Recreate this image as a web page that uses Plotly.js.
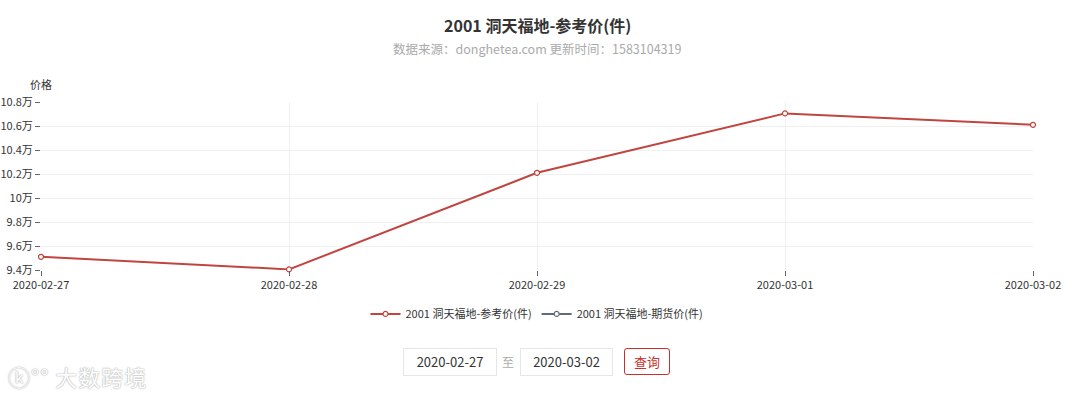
<!DOCTYPE html>
<html>
<head>
<meta charset="utf-8">
<script src="https://cdn.plot.ly/plotly-3.0.1.min.js"></script>
<style>
  html,body{margin:0;padding:0;background:#fff;}
  #wrap{position:relative;width:1080px;height:397px;overflow:hidden;font-family:"Noto Sans CJK SC","Noto Sans",sans-serif;}
  #chart{position:absolute;left:0;top:0;width:1080px;height:397px;}
  .box{position:absolute;top:348px;height:28px;border:1px solid #e6e6e6;box-sizing:border-box;font-size:13px;color:#333;text-align:center;line-height:26px;background:#fff;}
  .to{position:absolute;top:348px;height:28px;line-height:28px;font-size:12px;color:#aaa;}
  .btn{position:absolute;top:348px;height:27px;border:1px solid #c9302c;border-radius:3px;box-sizing:border-box;font-size:13px;color:#c9302c;text-align:center;line-height:25px;background:#fff;}
  .wm{position:absolute;left:8px;top:360px;font-size:22px;color:#fff;text-shadow:0 0 2px #bbb,0 0 1px #999;letter-spacing:1px;}
</style>
</head>
<body>
<div id="wrap">
  <div id="chart"></div>
  <div class="box" style="left:403px;width:94px;">2020-02-27</div>
  <div class="to" style="left:502px;">至</div>
  <div class="box" style="left:520px;width:93px;">2020-03-02</div>
  <div class="btn" style="left:624px;width:46px;">查询</div>
  <div class="wm">ⓚ°° 大数跨境</div>
</div>
<script>
const categories = ["2020-02-27", "2020-02-28", "2020-02-29", "2020-03-01", "2020-03-02"];
const refPrice = [95100, 94050, 102100, 107050, 106100];
const futuresPrice = [null, null, null, null, null];
const yTickVals = [94000, 96000, 98000, 100000, 102000, 104000, 106000, 108000];
const yTickText = ["9.4万", "9.6万", "9.8万", "10万", "10.2万", "10.4万", "10.6万", "10.8万"];
const seriesNames = ["2001 洞天福地-参考价(件)", "2001 洞天福地-期货价(件)"];

const font = "Noto Sans CJK SC, Noto Sans, sans-serif";
const traces = [
  {
    x: categories, y: refPrice, name: seriesNames[0], type: "scatter", mode: "lines+markers",
    line: {color: "#c0453f", width: 2},
    marker: {symbol: "circle", size: 5, color: "#fff", line: {color: "#c0453f", width: 1.2}},
    cliponaxis: false
  },
  {
    x: categories, y: futuresPrice, name: seriesNames[1], type: "scatter", mode: "lines+markers",
    line: {color: "#5f6b7a", width: 2},
    marker: {symbol: "circle", size: 5, color: "#fff", line: {color: "#5f6b7a", width: 1.2}}
  }
];
const layout = {
  width: 1080, height: 397,
  margin: {l: 41, r: 47, t: 102, b: 127},
  paper_bgcolor: "#fff", plot_bgcolor: "#fff",
  font: {family: font, size: 11, color: "#333"},
  showlegend: true,
  legend: {orientation: "h", x: 0.5, xanchor: "center", y: -0.175, yanchor: "top",
           font: {size: 11, color: "#333"}, itemwidth: 30},
  xaxis: {
    type: "category", range: [0, 4], showgrid: true, gridcolor: "#f0f0f0",
    ticks: "outside", ticklen: 5, tickcolor: "#666", showline: false, zeroline: false,
    tickfont: {size: 11, color: "#333"}
  },
  yaxis: {
    range: [94000, 108000], tickvals: yTickVals, ticktext: yTickText,
    showgrid: true, gridcolor: "#f0f0f0", ticks: "outside", ticklen: 5, tickcolor: "#666",
    showline: false, zeroline: false, tickfont: {size: 11, color: "#333"}
  },
  annotations: [
    {text: "<b>2001 洞天福地-参考价(件)</b>", xref: "paper", yref: "paper", x: 0.5, y: 1 + (102 - 25) / 168,
     xanchor: "center", yanchor: "middle", showarrow: false, font: {size: 16, color: "#333", family: font}},
    {text: "数据来源：donghetea.com 更新时间：1583104319", xref: "paper", yref: "paper", x: 0.5, y: 1 + (102 - 48) / 168,
     xanchor: "center", yanchor: "middle", showarrow: false, font: {size: 12.5, color: "#aaa", family: font}},
    {text: "价格", xref: "paper", yref: "paper", x: 0, y: 1 + (102 - 84) / 168,
     xanchor: "center", yanchor: "middle", showarrow: false, font: {size: 11, color: "#333", family: font}}
  ]
};
Plotly.newPlot("chart", traces, layout, {displayModeBar: false, staticPlot: true});
</script>
</body>
</html>
